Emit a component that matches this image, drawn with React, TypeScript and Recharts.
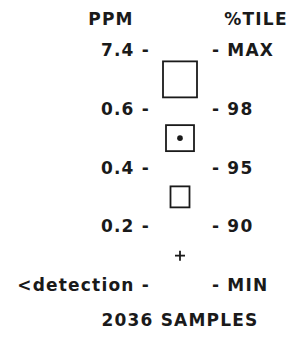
import React from "react";
import { ScatterChart, Scatter, XAxis, YAxis } from "recharts";

// tick labels, top (max) to bottom (min)
const PPM_TICKS = ["7.4", "0.6", "0.4", "0.2", "<detection"];
const PERCENTILE_TICKS = ["MAX", "98", "95", "90", "MIN"];

// one symbol per percentile class, drawn between the ticks
const CLASSES = ["MAX-98", "98-95", "95-90", "90-MIN"];
const SYMBOLS = ["square-large", "square-dot", "square-small", "plus"];
const SAMPLE_COUNT = 2036;

const INK = "#1a1a1a";
const FONT = "'DejaVu Sans', sans-serif";

const points = CLASSES.map((c, i) => ({ x: 0, y: i + 0.5, cls: c, symbol: SYMBOLS[i] }));

function SymbolShape(props: any) {
  const { cx, cy, payload } = props;
  const sw = 1.8;
  if (payload.symbol === "square-large") {
    return <rect x={cx - 17} y={cy - 18} width={34} height={36} fill="none" stroke={INK} strokeWidth={sw} />;
  }
  if (payload.symbol === "square-dot") {
    return (
      <g>
        <rect x={cx - 14} y={cy - 13} width={28} height={26} fill="none" stroke={INK} strokeWidth={sw} />
        <circle cx={cx} cy={cy} r={2.8} fill={INK} />
      </g>
    );
  }
  if (payload.symbol === "square-small") {
    return <rect x={cx - 9.5} y={cy - 10.5} width={19} height={21} fill="none" stroke={INK} strokeWidth={sw} />;
  }
  return (
    <g stroke={INK} strokeWidth={sw}>
      <line x1={cx - 5} y1={cy} x2={cx + 5} y2={cy} />
      <line x1={cx} y1={cy - 5} x2={cx} y2={cy + 5} />
    </g>
  );
}

const textStyle = { fontFamily: FONT, fontSize: 17, fontWeight: 700, fill: INK, letterSpacing: 1.2 };

function LeftTick(props: any) {
  const { y, payload } = props;
  return (
    <text x={150} y={y} dy={6} textAnchor="end" style={textStyle}>
      {PPM_TICKS[payload.value] + " -"}
    </text>
  );
}

function RightTick(props: any) {
  const { y, payload } = props;
  return (
    <text x={212} y={y} dy={6} textAnchor="start" style={textStyle}>
      {"- " + PERCENTILE_TICKS[payload.value]}
    </text>
  );
}

export default function App() {
  const ticks = PPM_TICKS.map((_, i) => i);
  return (
    <div style={{ position: "absolute", left: 0, top: 0, background: "#fff" }}>
      <ScatterChart width={293} height={337} margin={{ top: 50, right: 0, bottom: 0, left: 0 }}>
        <XAxis
          type="number"
          dataKey="x"
          domain={[-1, 1]}
          tick={false}
          axisLine={false}
          tickLine={false}
          height={52}
          label={{
            content: () => (
              <text x={180} y={326} textAnchor="middle" style={textStyle}>
                {SAMPLE_COUNT + " SAMPLES"}
              </text>
            ),
          }}
        />
        <YAxis
          yAxisId="ppm"
          type="number"
          dataKey="y"
          orientation="left"
          reversed
          domain={[0, PPM_TICKS.length - 1]}
          ticks={ticks}
          interval={0}
          width={160}
          axisLine={false}
          tickLine={false}
          tick={<LeftTick />}
          label={{
            content: () => (
              <text x={111} y={25} textAnchor="middle" style={textStyle}>
                PPM
              </text>
            ),
          }}
        />
        <YAxis
          yAxisId="pct"
          type="number"
          dataKey="y"
          orientation="right"
          reversed
          domain={[0, PERCENTILE_TICKS.length - 1]}
          ticks={ticks}
          interval={0}
          width={93}
          axisLine={false}
          tickLine={false}
          tick={<RightTick />}
          label={{
            content: () => (
              <text x={256} y={25} textAnchor="middle" style={textStyle}>
                %TILE
              </text>
            ),
          }}
        />
        <Scatter yAxisId="ppm" data={points} shape={<SymbolShape />} isAnimationActive={false} />
        <Scatter yAxisId="pct" data={points} shape={() => <g />} isAnimationActive={false} />
      </ScatterChart>
    </div>
  );
}
